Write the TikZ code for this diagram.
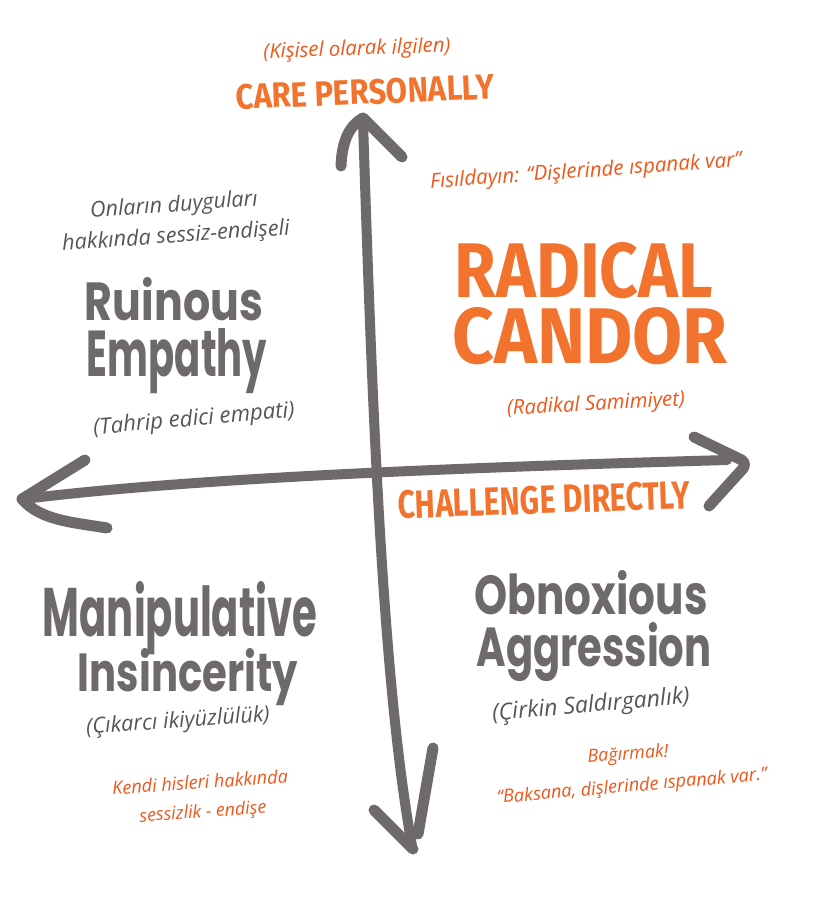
\documentclass[tikz,border=0pt]{standalone}
\usepackage{fontspec}
\usepackage{graphicx}
\newfontfamily\handfont{Open Sans}
\newfontfamily\quadfont{Poppins}
\newfontfamily\markfont{Fira Sans}
\definecolor{axisgray}{RGB}{110,106,106}
\definecolor{textgray}{RGB}{85,85,85}
\definecolor{accent}{RGB}{242,115,45}
\definecolor{redorange}{RGB}{240,85,25}
\newcommand{\fitwh}[3]{\resizebox{#1pt}{#2pt}{#3}}
\newcommand{\fitw}[2]{\resizebox{#1pt}{!}{#2}}
\tikzset{
  axisline/.style={draw=axisgray, line width=10pt, line cap=round, line join=round},
  barb/.style={axisline, line width=11pt},
  note/.style={inner sep=0pt, text=redorange, font=\handfont\itshape},
  greynote/.style={note, text=textgray},
  quad/.style={inner sep=0pt, anchor=base, text=axisgray, font=\quadfont\bfseries},
  caplabel/.style={inner sep=0pt, text=accent, font=\markfont\bfseries},
  bigcap/.style={caplabel, anchor=base}
}
\begin{document}
\begin{tikzpicture}[x=1pt,y=-1pt]
\useasboundingbox[fill=white] (0,0) rectangle (814,902);

% axes
\coordinate (vtop) at (363,122);
\coordinate (vbot) at (412,846);
\coordinate (hright) at (727,460);
\coordinate (hleft) at (24,499);
\draw[axisline] (vtop) .. controls (372,400) and (382,680) .. (vbot);
\draw[axisline] (hright) .. controls (480,467) and (200,477) .. (hleft);

% arrowheads
\coordinate (ttip) at (363,118);
\coordinate (tleft) at (341,166);
\coordinate (tright) at (402,157);
\draw[barb] (tleft) .. controls (342,140) and (350,125) .. (ttip) -- (tright);

\coordinate (btip) at (413,849);
\coordinate (bleft) at (374,810);
\coordinate (brtop) at (433,748);
\coordinate (brbot) at (418,834);
\draw[barb] (bleft) -- (btip);
\draw[barb] (brtop) -- (brbot);

\coordinate (ltip) at (22,499);
\coordinate (lup) at (85,460);
\coordinate (llow) at (107,528);
\draw[barb] (lup) -- (ltip) .. controls (40,520) and (70,522) .. (llow);

\coordinate (rup) at (694,437);
\coordinate (rtip) at (748,463);
\coordinate (rlow) at (709,506);
\draw[barb, rounded corners=8pt] (rup) -- (rtip) -- (rlow);

% top labels
\node[note, rotate=2] (kisisel) at (357,50) {\fitw{187}{(Kişisel olarak ilgilen)}};
\node[caplabel, rotate=2.3] (care) at (365,92) {\fitwh{258}{25}{CARE PERSONALLY}};

% radical candor quadrant
\node[note, rotate=4] (fisil) at (586,172) {\fitw{312}{Fısıldayın: “Dişlerinde ıspanak var”}};
\node[bigcap] (radical) at (584,297) {\fitwh{258}{55}{RADICAL}};
\node[bigcap] (candor) at (590,363) {\fitwh{275}{56}{CANDOR}};
\node[note, rotate=3] (radikal) at (596,405) {\fitw{178}{(Radikal Samimiyet)}};

% ruinous empathy quadrant
\node[greynote, rotate=4] (onlarin) at (174,206) {\fitw{168}{Onların duyguları}};
\node[greynote, rotate=4] (hakkinda) at (176,237) {\fitw{228}{hakkında sessiz-endişeli}};
\node[quad] (ruinous) at (174,320) {\fitwh{178}{43}{Ruinous}};
\node[quad] (empathy) at (177,376) {\fitwh{180}{48}{Empathy}};
\node[greynote, rotate=5] (tahrip) at (194,420) {\fitw{202}{(Tahrip edici empati)}};

% horizontal axis label
\node[caplabel, rotate=2] (challenge) at (544,500) {\fitwh{292}{28}{CHALLENGE DIRECTLY}};

% manipulative insincerity quadrant
\node[quad] (manip) at (180,636) {\fitwh{274}{55}{Manipulative}};
\node[quad] (insinc) at (188,691) {\fitwh{220}{43}{Insincerity}};
\node[greynote, rotate=4] (cikarci) at (178,722) {\fitw{184}{(Çıkarcı ikiyüzlülük)}};
\node[note, rotate=4] (kendi) at (200,782) {\fitw{176}{Kendi hisleri hakkında}};
\node[note, rotate=4] (sessizlik) at (203,813) {\fitw{127}{sessizlik - endişe}};

% obnoxious aggression quadrant
\node[quad] (obnox) at (591,614) {\fitwh{233}{44}{Obnoxious}};
\node[quad] (aggr) at (594,666) {\fitwh{235}{44}{Aggression}};
\node[greynote, rotate=5] (cirkin) at (591,706) {\fitw{198}{(Çirkin Saldırganlık)}};
\node[note, rotate=4] (bagirmak) at (628,755) {\fitw{81}{Bağırmak!}};
\node[note, rotate=5] (baksana) at (632,787) {\fitw{271}{“Baksana, dişlerinde ıspanak var.”}};
\end{tikzpicture}
\end{document}
